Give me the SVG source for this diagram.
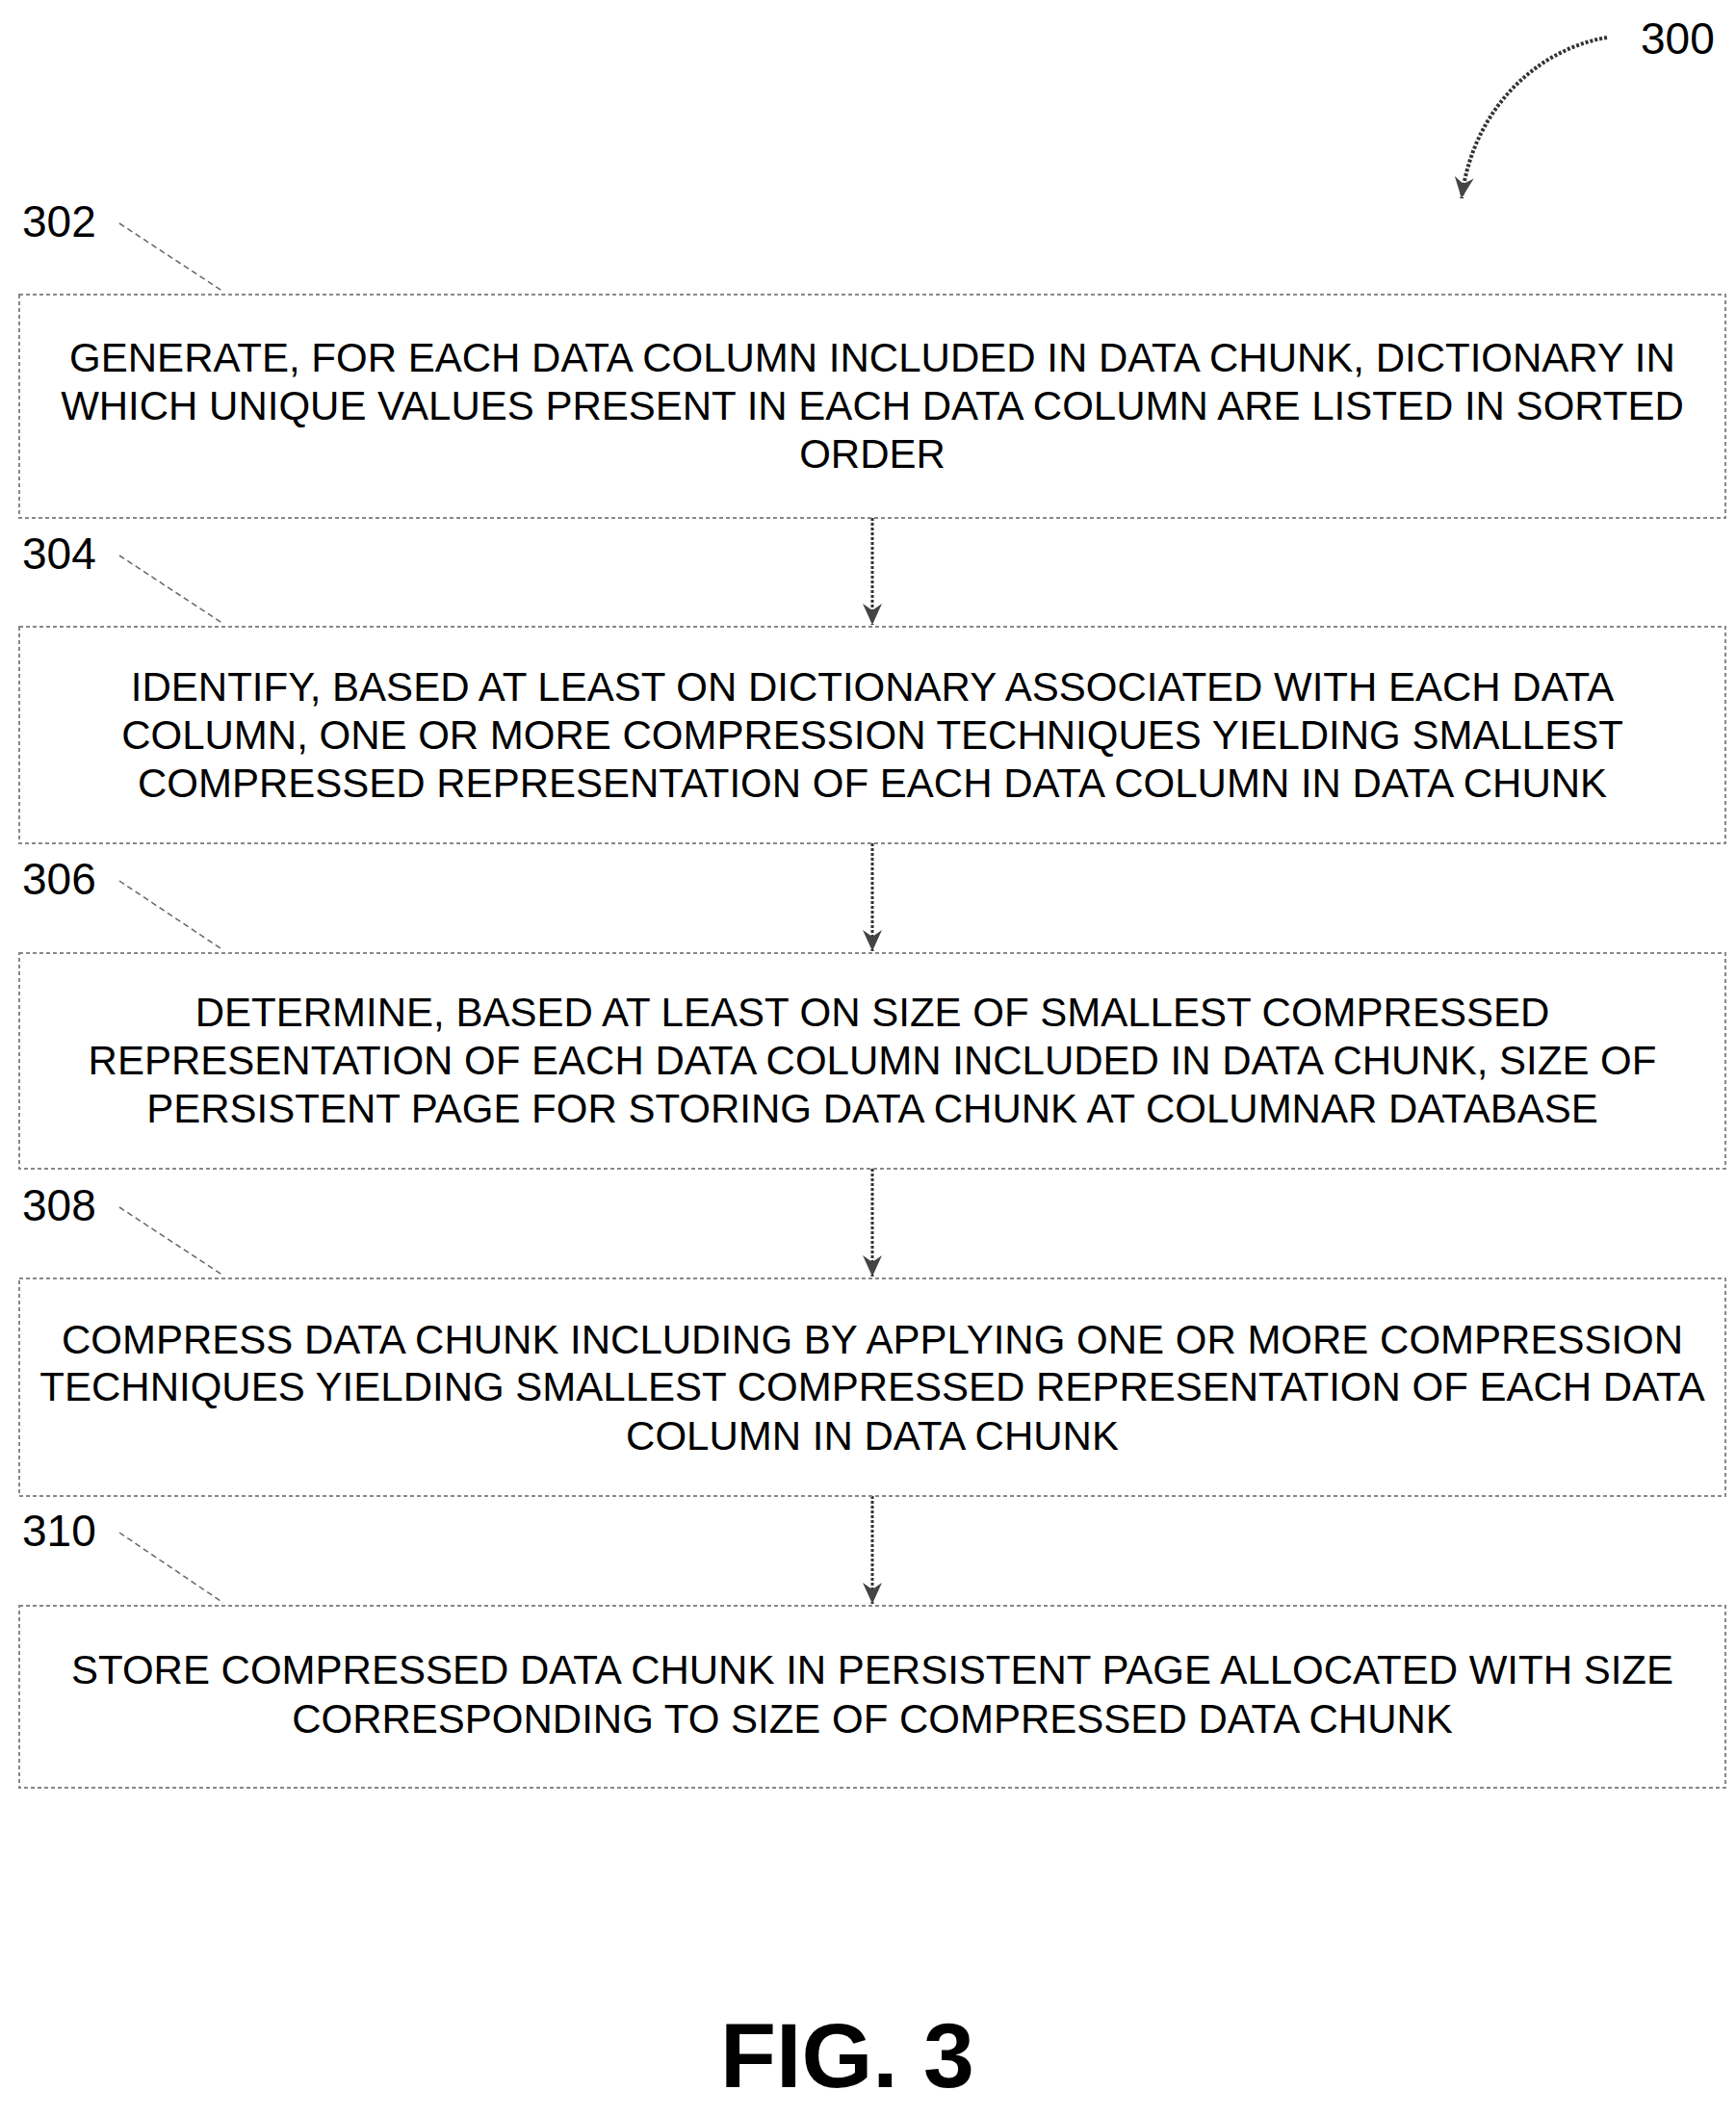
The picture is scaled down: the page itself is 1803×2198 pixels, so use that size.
<svg xmlns="http://www.w3.org/2000/svg" width="1803" height="2198" viewBox="0 0 1803 2198">
<defs>
<style>
.box{fill:#fff;stroke:#888;stroke-width:2;stroke-dasharray:4 3}
.t{font-family:"Liberation Sans",Arial,sans-serif;font-size:42px;fill:#000;text-anchor:middle}
.lbl{font-family:"Liberation Sans",Arial,sans-serif;font-size:46px;fill:#000}
.lead{stroke:#666;stroke-width:1.5;stroke-dasharray:6 4;fill:none}
.con{stroke:#333;stroke-width:3;stroke-dasharray:3 2;fill:none;marker-end:url(#ah)}
</style>
<marker id="ah" markerWidth="24" markerHeight="24" refX="22" refY="12" orient="auto" markerUnits="userSpaceOnUse">
<path d="M0,2 L22,12 L0,22 L7,12 Z" fill="#444"/>
</marker>
</defs>
<rect width="1803" height="2198" fill="#fff"/>
<g id="connectors">
<line class="con" x1="906" y1="538" x2="906" y2="649"/>
<line class="con" x1="906" y1="876" x2="906" y2="988"/>
<line class="con" x1="906" y1="1214" x2="906" y2="1326"/>
<line class="con" x1="906" y1="1554" x2="906" y2="1666"/>
<path class="con" d="M1669,39 C1600,50 1530,110 1518,206" style="stroke-width:4"/>
<line class="lead" x1="124" y1="232" x2="232" y2="303"/>
<line class="lead" x1="124" y1="577" x2="232" y2="648"/>
<line class="lead" x1="124" y1="915" x2="232" y2="987"/>
<line class="lead" x1="124" y1="1254" x2="232" y2="1325"/>
<line class="lead" x1="124" y1="1592" x2="232" y2="1665"/>
</g>
<text class="lbl" x="1704" y="56">300</text>
<g id="n302">
<text class="lbl" x="23" y="246">302</text>
<rect class="box" x="20" y="306" width="1772" height="232"/>
<text class="t" x="906" y="386">GENERATE, FOR EACH DATA COLUMN INCLUDED IN DATA CHUNK, DICTIONARY IN</text>
<text class="t" x="906" y="436">WHICH UNIQUE VALUES PRESENT IN EACH DATA COLUMN ARE LISTED IN SORTED</text>
<text class="t" x="906" y="486">ORDER</text>
</g>
<g id="n304">
<text class="lbl" x="23" y="591">304</text>
<rect class="box" x="20" y="651" width="1772" height="225"/>
<text class="t" x="906" y="728">IDENTIFY, BASED AT LEAST ON DICTIONARY ASSOCIATED WITH EACH DATA</text>
<text class="t" x="906" y="778">COLUMN, ONE OR MORE COMPRESSION TECHNIQUES YIELDING SMALLEST</text>
<text class="t" x="906" y="828">COMPRESSED REPRESENTATION OF EACH DATA COLUMN IN DATA CHUNK</text>
</g>
<g id="n306">
<text class="lbl" x="23" y="929">306</text>
<rect class="box" x="20" y="990" width="1772" height="224"/>
<text class="t" x="906" y="1066">DETERMINE, BASED AT LEAST ON SIZE OF SMALLEST COMPRESSED</text>
<text class="t" x="906" y="1116">REPRESENTATION OF EACH DATA COLUMN INCLUDED IN DATA CHUNK, SIZE OF</text>
<text class="t" x="906" y="1166">PERSISTENT PAGE FOR STORING DATA CHUNK AT COLUMNAR DATABASE</text>
</g>
<g id="n308">
<text class="lbl" x="23" y="1268">308</text>
<rect class="box" x="20" y="1328" width="1772" height="226"/>
<text class="t" x="906" y="1406">COMPRESS DATA CHUNK INCLUDING BY APPLYING ONE OR MORE COMPRESSION</text>
<text class="t" x="906" y="1455">TECHNIQUES YIELDING SMALLEST COMPRESSED REPRESENTATION OF EACH DATA</text>
<text class="t" x="906" y="1506">COLUMN IN DATA CHUNK</text>
</g>
<g id="n310">
<text class="lbl" x="23" y="1606">310</text>
<rect class="box" x="20" y="1668" width="1772" height="189"/>
<text class="t" x="906" y="1749">STORE COMPRESSED DATA CHUNK IN PERSISTENT PAGE ALLOCATED WITH SIZE</text>
<text class="t" x="906" y="1800">CORRESPONDING TO SIZE OF COMPRESSED DATA CHUNK</text>
</g>
<text x="880" y="2168" style="font-family:'Liberation Sans',Arial,sans-serif;font-size:95px;font-weight:bold;text-anchor:middle">FIG. 3</text>
</svg>
